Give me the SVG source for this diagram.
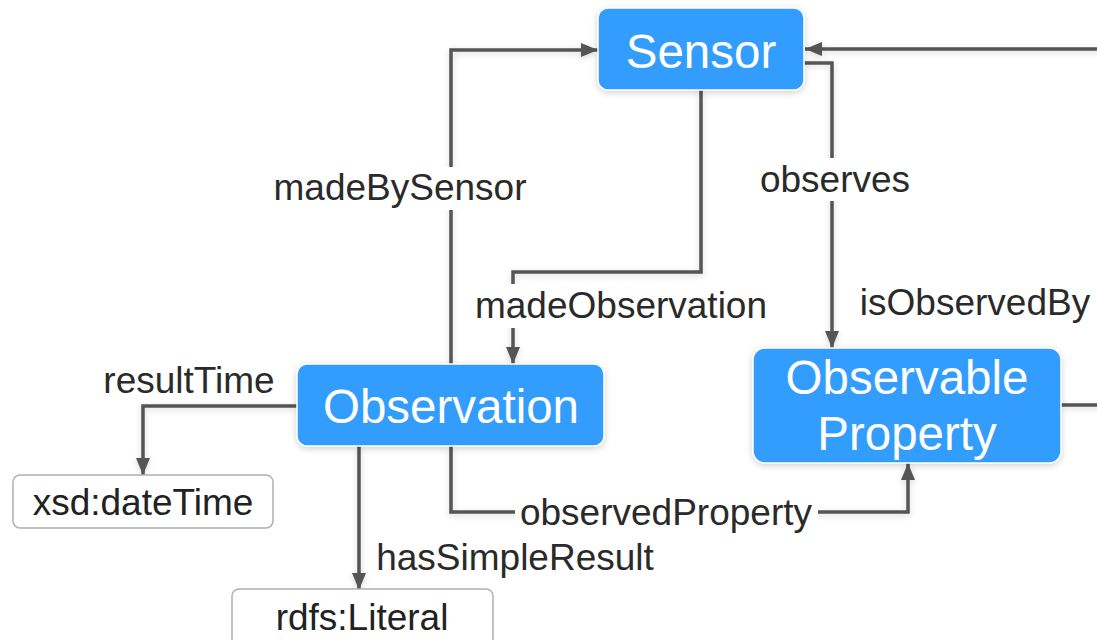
<svg xmlns="http://www.w3.org/2000/svg" width="1097" height="640" viewBox="0 0 1097 640">
  <defs>
    <style>
      .node rect { fill: #339dfd; stroke: #ffffff; stroke-width: 1.5; filter: url(#shadow); }
      .node text { fill: #ffffff; font-family: "Liberation Sans", Arial, sans-serif; font-size: 47.5px; text-anchor: middle; }
      .lit rect { fill: #ffffff; stroke: #b0b0b0; stroke-width: 1.5; }
      .lit text { fill: #222222; font-family: "Liberation Sans", Arial, sans-serif; font-size: 37px; text-anchor: middle; }
      .edge { fill: none; stroke: #555555; stroke-width: 3.5; marker-end: url(#arrow); filter: url(#edgeShadow); }
      .lbg { fill: #ffffff; }
      .lbl { fill: #2a2a2a; font-family: "Liberation Sans", Arial, sans-serif; font-size: 37px; text-anchor: middle; }
    </style>
    <marker id="arrow" markerUnits="userSpaceOnUse" markerWidth="17" markerHeight="14" refX="17" refY="7" orient="auto">
      <path d="M0,0 L17,7 L0,14 z" fill="#555555"/>
    </marker>
    <filter id="shadow" x="-10%" y="-10%" width="120%" height="130%">
      <feDropShadow dx="0" dy="2" stdDeviation="3" flood-color="#000000" flood-opacity="0.18"/>
    </filter>
    <!-- user-space region so straight vertical/horizontal lines keep rendering -->
    <filter id="edgeShadow" filterUnits="userSpaceOnUse" x="0" y="0" width="1097" height="640">
      <feDropShadow dx="0" dy="2" stdDeviation="3" flood-color="#000000" flood-opacity="0.15"/>
    </filter>
  </defs>
  <rect width="1097" height="640" fill="#ffffff"/>

  <!-- connectors -->
  <g id="connectors">
    <!-- madeBySensor -->
    <path class="edge" d="M451,364 V50 H598"/>
    <!-- madeObservation -->
    <path class="edge" d="M701,90 V272 H513 V364"/>
    <!-- observes -->
    <path class="edge" d="M804,63 H832 V348"/>
    <!-- isObservedBy -->
    <path class="edge" d="M1061,405 H1110 V49 H805"/>
    <!-- resultTime -->
    <path class="edge" d="M297,406 H143 V475"/>
    <!-- hasSimpleResult -->
    <path class="edge" d="M359,446 V590"/>
    <!-- observedProperty -->
    <path class="edge" d="M451,446 V512 H908 V463"/>

    <rect class="lbg" x="268" y="167" width="266" height="43"/>
    <text class="lbl" x="400" y="200">madeBySensor</text>
    <rect class="lbg" x="470" y="284" width="303" height="44"/>
    <text class="lbl" x="621" y="318">madeObservation</text>
    <rect class="lbg" x="755" y="158" width="160" height="43"/>
    <text class="lbl" x="835" y="192">observes</text>
    <rect class="lbg" x="855" y="282" width="240" height="43"/>
    <text class="lbl" x="975" y="315">isObservedBy</text>
    <text class="lbl" x="189" y="393">resultTime</text>
    <text class="lbl" x="515" y="570">hasSimpleResult</text>
    <rect class="lbg" x="515" y="492" width="303" height="44"/>
    <text class="lbl" x="666" y="525">observedProperty</text>
  </g>

  <!-- nodes -->
  <g id="sensor" class="node">
    <rect x="598" y="8" width="206" height="82" rx="10"/>
    <text x="701" y="68">Sensor</text>
  </g>
  <g id="observation" class="node">
    <rect x="297" y="364" width="307" height="82" rx="10"/>
    <text x="451" y="423">Observation</text>
  </g>
  <g id="observable-property" class="node">
    <rect x="753" y="348" width="308" height="115" rx="12"/>
    <text x="907" y="394">Observable</text>
    <text x="907" y="450">Property</text>
  </g>
  <g id="xsd-datetime" class="lit">
    <rect x="13" y="475" width="260" height="53" rx="7"/>
    <text x="143" y="515">xsd:dateTime</text>
  </g>
  <g id="rdfs-literal" class="lit">
    <rect x="232" y="589" width="261" height="70" rx="7"/>
    <text x="362" y="630">rdfs:Literal</text>
  </g>
</svg>
